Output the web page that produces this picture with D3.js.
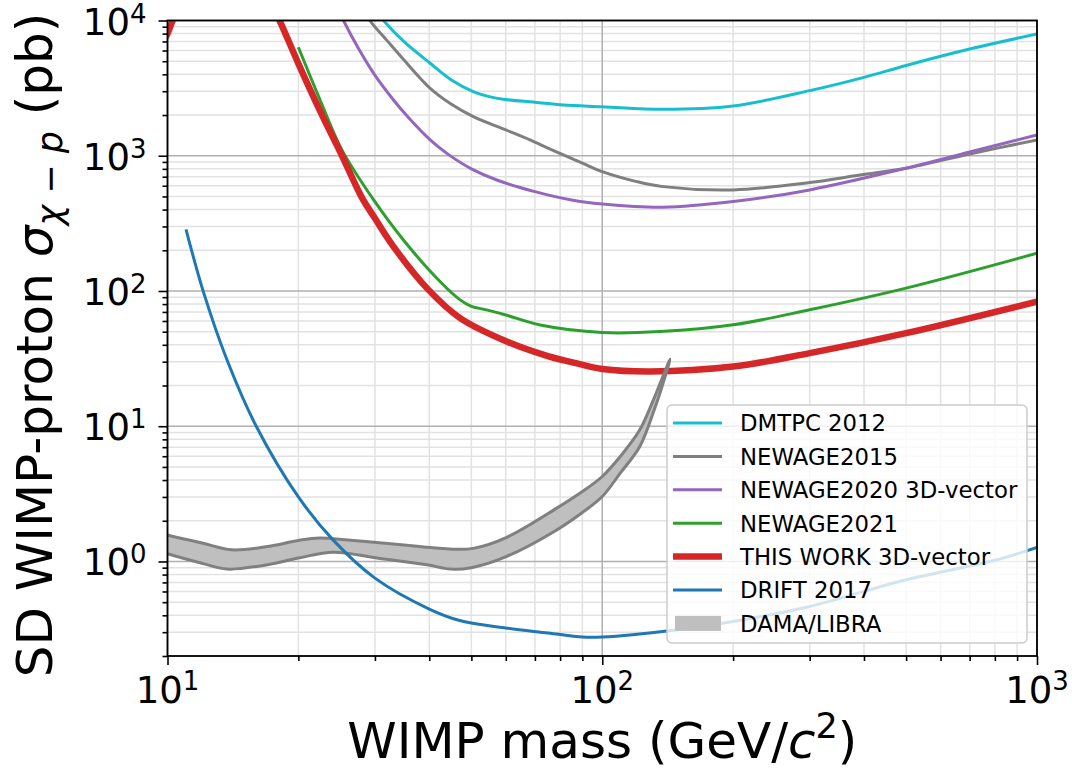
<!DOCTYPE html>
<html><head><meta charset="utf-8">
<script src="https://cdn.jsdelivr.net/npm/d3@7"></script>
<style>
body{margin:0;background:#fff;}
svg{display:block;font-family:"DejaVu Sans",sans-serif;}
</style>
</head><body>
<svg id="c" width="1072" height="774"></svg>
<script>
// ---------------- data (WIMP mass in GeV/c^2, cross section in pb) ----------------
const dmtpc = [[29.5,13000],[31.4,10000],[35,6970],[40.2,4828],[45,3630],[50.5,2977],[55,2735],[59.2,2614],[70,2485],[81.4,2373],[100,2306],[138,2206],[200,2333],[300,3030],[400,3800],[500,4650],[700,6150],[1000,7946]];
const newage2015 = [[27.5,14000],[29.2,10000],[32,7100],[35,5100],[40.2,3150],[45,2400],[50.5,1945],[60,1552],[68.2,1309],[75,1140],[81.4,1014],[90,881],[100,763],[120,644],[138,591],[200,559],[300,633],[392,721],[500,809],[700,1031],[1000,1309]];
const newage2020 = [[24.2,14000],[25.4,10000],[27.5,6200],[29.8,4070],[33.1,2585],[36,1884],[40.2,1309],[42.4,1136],[45,985],[50,800],[57.2,662],[70,543],[85,471],[100,440],[138,416],[200,458],[300,559],[500,809],[700,1066],[1000,1425]];
const newage2021 = [[20,6340],[22.5,2530],[25.2,1100],[29.8,471],[35,235],[42.4,117],[47.1,86],[50,77],[54.2,72.5],[60,66.5],[72,56],[100,49.3],[136,50.1],[200,56.2],[300,72.6],[500,105],[1000,190]];
const thisWork = [[9.9,7500],[10,8000],[10.4,11000],[12,30000],[15,30000],[16.5,18000],[18.1,10000],[20,4800],[22.5,2100],[25.2,1000],[28,490],[30,345],[33.1,213],[39.5,105],[47.1,63],[60.3,42.3],[75,33],[88,29],[100,26.5],[129,25.4],[200,27.6],[300,34.7],[500,48.8],[1000,83.5]];
const drift2017 = [[11.03,286],[12.1,98],[13.7,31],[16,10],[20,3.0],[24,1.45],[30,0.753],[40,0.445],[47,0.366],[60,0.322],[75,0.296],[90,0.276],[100,0.276],[146,0.31],[200,0.36],[300,0.465],[500,0.733],[800,1.02],[1000,1.27]];
const damaUpper = [[9.5,1.65],[10,1.57],[12,1.37],[14.05,1.22],[17,1.29],[20,1.43],[22.4,1.49],[26,1.44],[30.3,1.38],[38,1.29],[46.3,1.23],[50.5,1.25],[60.3,1.51],[78.6,2.48],[90,3.29],[100,4.25],[110,5.97],[122,9.4],[132,16.5],[143.2,31.3]];
const damaLower = [[9.5,1.2],[10,1.14],[12,0.97],[13.7,0.879],[17,0.946],[20,1.06],[24.1,1.17],[30.3,1.06],[39.5,0.946],[44.7,0.878],[50,0.9],[60.3,1.09],[78.6,1.71],[90,2.3],[100,3.02],[110,4.5],[122,7.08],[132,13.5],[138,20.8]];

const xMajor = [10,100,1000];
const xMinor = [20,30,40,50,60,70,80,90,200,300,400,500,600,700,800,900];
const yMajor = [1,10,100,1000,10000];
const yMajorExp = [0,1,2,3,4];
const xMajorExp = [1,2,3];

const series = [
  {name:"DMTPC 2012", data:dmtpc, color:"#17becf", w:3},
  {name:"NEWAGE2015", data:newage2015, color:"#7f7f7f", w:3},
  {name:"NEWAGE2020 3D-vector", data:newage2020, color:"#9467bd", w:3},
  {name:"NEWAGE2021", data:newage2021, color:"#2ca02c", w:3},
  {name:"THIS WORK 3D-vector", data:thisWork, color:"#d62728", w:6.5},
  {name:"DRIFT 2017", data:drift2017, color:"#1f77b4", w:3}
];

// ---------------- layout ----------------
const L=167.5, R=1037, T=20.5, B=656;
const x = d3.scaleLog().domain([10,1000]).range([L,R]);
const y = d3.scaleLog().domain([0.2,10000]).range([B,T]);

const yMinor = [];
[0.1,1,10,100,1000].forEach(d=>{for(let k=2;k<=9;k++){const v=k*d; if(v>=0.2-1e-9 && v<=10000) yMinor.push(v);}});

const svg = d3.select("#c");
svg.append("rect").attr("width",1072).attr("height",774).attr("fill","#fff");

svg.append("defs").append("clipPath").attr("id","clip")
  .append("rect").attr("x",L).attr("y",T).attr("width",R-L).attr("height",B-T);

// grid
const grid = svg.append("g");
grid.selectAll(".gxm").data(xMinor).join("line")
  .attr("x1",d=>x(d)).attr("x2",d=>x(d)).attr("y1",T).attr("y2",B)
  .attr("stroke","#e2e2e2").attr("stroke-width",1.5);
grid.selectAll(".gym").data(yMinor).join("line")
  .attr("y1",d=>y(d)).attr("y2",d=>y(d)).attr("x1",L).attr("x2",R)
  .attr("stroke","#e2e2e2").attr("stroke-width",1.5);
grid.selectAll(".gxM").data(xMajor).join("line")
  .attr("x1",d=>x(d)).attr("x2",d=>x(d)).attr("y1",T).attr("y2",B)
  .attr("stroke","#b0b0b0").attr("stroke-width",1.5);
grid.selectAll(".gyM").data(yMajor).join("line")
  .attr("y1",d=>y(d)).attr("y2",d=>y(d)).attr("x1",L).attr("x2",R)
  .attr("stroke","#b0b0b0").attr("stroke-width",1.5);

const plot = svg.append("g").attr("clip-path","url(#clip)");

const line = d3.line().x(d=>x(d[0])).y(d=>y(d[1])).curve(d3.curveCatmullRom.alpha(0.5));

// lines except DRIFT
series.slice(0,5).forEach(s=>{
  plot.append("path").attr("d",line(s.data)).attr("fill","none")
    .attr("stroke",s.color).attr("stroke-width",s.w).attr("stroke-linejoin","round");
});

// DAMA/LIBRA closed contour
const damaPts = damaUpper.concat(damaLower.slice().reverse());
plot.append("path").attr("d",line(damaPts)+"Z")
  .attr("fill","#bfbfbf").attr("stroke","#808080").attr("stroke-width",3).attr("stroke-linejoin","round");

// DRIFT on top
const drift = series[5];
plot.append("path").attr("d",line(drift.data)).attr("fill","none")
  .attr("stroke",drift.color).attr("stroke-width",drift.w);

// frame
svg.append("rect").attr("x",L).attr("y",T).attr("width",R-L).attr("height",B-T)
  .attr("fill","none").attr("stroke","#000").attr("stroke-width",1.8);

// axes ticks
function styleAxis(g){g.select(".domain").remove(); g.selectAll("line").attr("stroke","#000").attr("stroke-width",1.6);}
svg.append("g").attr("transform",`translate(0,${B})`)
  .call(d3.axisBottom(x).tickValues(xMajor).tickSize(9).tickSizeOuter(0).tickFormat(""))
  .call(styleAxis);
svg.append("g").attr("transform",`translate(0,${B})`)
  .call(d3.axisBottom(x).tickValues(xMinor).tickSize(5).tickSizeOuter(0).tickFormat(""))
  .call(styleAxis);
svg.append("g").attr("transform",`translate(${L},0)`)
  .call(d3.axisLeft(y).tickValues(yMajor).tickSize(9).tickSizeOuter(0).tickFormat(""))
  .call(styleAxis);
svg.append("g").attr("transform",`translate(${L},0)`)
  .call(d3.axisLeft(y).tickValues(yMinor).tickSize(5).tickSizeOuter(0).tickFormat(""))
  .call(styleAxis);

// tick labels
const tickFS = 37, supFS = 26;
xMajor.forEach((v,i)=>{
  const t = svg.append("text").attr("x",x(v)).attr("y",B+47).attr("text-anchor","middle")
    .attr("font-size",tickFS).attr("fill","#000");
  t.append("tspan").text("10");
  t.append("tspan").attr("font-size",supFS).attr("dy",-13).text(xMajorExp[i]);
});
yMajor.forEach((v,i)=>{
  const t = svg.append("text").attr("x",L-21).attr("y",y(v)+14).attr("text-anchor","end")
    .attr("font-size",tickFS).attr("fill","#000");
  t.append("tspan").text("10");
  t.append("tspan").attr("font-size",supFS).attr("dy",-12).text(yMajorExp[i]);
});

// axis labels
const xl = svg.append("text").attr("x",(L+R)/2).attr("y",758).attr("text-anchor","middle")
  .attr("font-size",50).attr("fill","#000");
xl.append("tspan").text("WIMP mass (GeV/");
xl.append("tspan").attr("font-style","italic").text("c");
xl.append("tspan").attr("font-size",35).attr("dy",-20).text("2");
xl.append("tspan").attr("dy",20).text(")");

const yl = svg.append("text").attr("transform",`translate(52,345) rotate(-90)`)
  .attr("text-anchor","middle").attr("font-size",50).attr("fill","#000");
yl.append("tspan").text("SD WIMP-proton ");
yl.append("tspan").attr("font-style","italic").text("σ");
yl.append("tspan").attr("font-size",35).attr("dy",10).attr("font-style","italic").text("χ");
yl.append("tspan").attr("font-size",35).text(" − ");
yl.append("tspan").attr("font-size",35).attr("font-style","italic").text("p");
yl.append("tspan").attr("dy",-10).text("  (pb)");

// legend
const lg = svg.append("g");
lg.append("rect").attr("x",667).attr("y",405).attr("width",360).attr("height",238).attr("rx",5)
  .attr("fill","#fff").attr("fill-opacity",0.8).attr("stroke","#cccccc").attr("stroke-width",1.5);
const rowY = i => 423 + i*33.4;
series.forEach((s,i)=>{
  lg.append("line").attr("x1",673).attr("x2",722).attr("y1",rowY(i)).attr("y2",rowY(i))
    .attr("stroke",s.color).attr("stroke-width",s.w);
  lg.append("text").attr("x",740).attr("y",rowY(i)+8.3).attr("font-size",22.8).attr("fill","#000").text(s.name);
});
lg.append("rect").attr("x",675).attr("y",rowY(6)-7.5).attr("width",46).attr("height",15).attr("fill","#bfbfbf");
lg.append("text").attr("x",740).attr("y",rowY(6)+8.3).attr("font-size",22.8).attr("fill","#000").text("DAMA/LIBRA");
</script>
</body></html>
